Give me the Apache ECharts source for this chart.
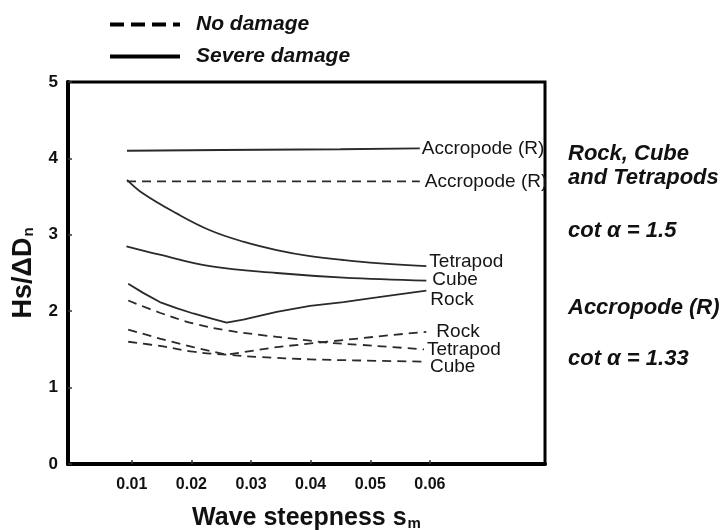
<!DOCTYPE html>
<html><head><meta charset="utf-8">
<script src="https://cdn.jsdelivr.net/npm/echarts@6/dist/echarts.min.js"></script>
<style>html,body{margin:0;padding:0;background:#fff}#c{width:720px;height:530px}</style>
</head><body><div id="c"></div>
<script>
// Tick values / labels
const xTicks = [0.01, 0.02, 0.03, 0.04, 0.05, 0.06];
const xTickLabels = ['0.01', '0.02', '0.03', '0.04', '0.05', '0.06'];
const yTicks = [0, 1, 2, 3, 4, 5];

// Severe damage (solid)
const accSevereX = [0.0092, 0.025, 0.045, 0.0583];
const accSevereY = [4.10, 4.11, 4.12, 4.13];
const tetraSevereX = [0.0092, 0.0119, 0.0175, 0.0231, 0.0287, 0.0343, 0.0399, 0.0455, 0.0511, 0.0594];
const tetraSevereY = [3.72, 3.54, 3.28, 3.06, 2.91, 2.80, 2.72, 2.67, 2.63, 2.59];
const cubeSevereX = [0.0091, 0.0147, 0.0231, 0.0343, 0.0455, 0.0594];
const cubeSevereY = [2.85, 2.74, 2.59, 2.50, 2.44, 2.40];
const rockSevereX = [0.0094, 0.0119, 0.0147, 0.0175, 0.0203, 0.0231, 0.0259, 0.0287, 0.0343, 0.0399, 0.0455, 0.0511, 0.0594];
const rockSevereY = [2.36, 2.24, 2.12, 2.04, 1.97, 1.91, 1.85, 1.89, 1.99, 2.07, 2.12, 2.18, 2.27];

// No damage (dashed)
const accNoX = [0.0092, 0.0583];
const accNoY = [3.70, 3.70];
const rockNoX = [0.0094, 0.0147, 0.0203, 0.0259, 0.0343, 0.0427, 0.0483, 0.0538, 0.0594];
const rockNoY = [1.76, 1.64, 1.53, 1.43, 1.53, 1.60, 1.645, 1.69, 1.73];
const tetraNoX = [0.0094, 0.0147, 0.0203, 0.0259, 0.0315, 0.0371, 0.0427, 0.0483, 0.0538, 0.0590];
const tetraNoY = [2.14, 1.98, 1.84, 1.75, 1.69, 1.64, 1.59, 1.56, 1.53, 1.50];
const cubeNoX = [0.0094, 0.0147, 0.0203, 0.0259, 0.0315, 0.0399, 0.0483, 0.0590];
const cubeNoY = [1.60, 1.545, 1.47, 1.43, 1.40, 1.37, 1.355, 1.34];

const FONT = 'Liberation Sans, Arial, sans-serif';
const LINE = '#2a2a2a';
const DASH = [9, 6];
const ICON_DASHED = 'path://M0,0h14v4h-14zM21,0h14v4h-14zM42,0h14v4h-14zM63,0h7v4h-7z';
const ICON_SOLID = 'path://M0,0h70v4h-70z';

function zip(xs, ys) { return xs.map((x, i) => [x, ys[i]]); }
function curve(name, xs, ys, dashed, label, smooth, dist, off) {
  return {
    type: 'line', name: name, data: zip(xs, ys), symbol: 'none', smooth: smooth,
    silent: true,
    itemStyle: { color: LINE },
    lineStyle: { color: LINE, width: 1.8, type: dashed ? DASH : 'solid' },
    endLabel: {
      show: true, formatter: label, distance: dist, offset: off,
      fontFamily: FONT, fontSize: 19, color: '#151515'
    }
  };
}

const chart = echarts.init(document.getElementById('c'), null, { renderer: 'canvas' });
const rightFont = { fontFamily: FONT, fontSize: 22, fontWeight: 'bold', fontStyle: 'italic', fill: '#111' };
function rtext(t, y) {
  return { type: 'text', left: 568, top: y - 12, style: Object.assign({ text: t }, rightFont) };
}

chart.setOption({
  animation: false,
  textStyle: { fontFamily: FONT },
  grid: { left: 68, right: 175, top: 82, bottom: 66, show: true, borderColor: '#000', borderWidth: 3, outerBoundsMode: 'none', containLabel: false },
  legend: {
    orient: 'vertical', left: 105, top: 9, itemGap: 11, itemWidth: 70, itemHeight: 4,
    data: [
      { name: 'No damage', icon: ICON_DASHED },
      { name: 'Severe damage', icon: ICON_SOLID }
    ],
    itemStyle: { color: '#000', borderWidth: 0 },
    textStyle: { fontSize: 21, fontWeight: 'bold', fontStyle: 'italic', color: '#111', padding: [0, 0, 0, 11] }
  },
  xAxis: {
    type: 'value', min: -0.0007, max: 0.0793,
    name: '{a|Wave steepness s}{b|m}', nameLocation: 'middle', nameGap: 42,
    nameTextStyle: {
      rich: {
        a: { fontSize: 25, fontWeight: 'bold', color: '#111', fontFamily: FONT },
        b: { fontSize: 15, fontWeight: 'bold', color: '#111', fontFamily: FONT, padding: [10, 0, 0, 1] }
      }
    },
    axisLine: { onZero: false, lineStyle: { color: '#000', width: 4 } },
    axisTick: { show: true, inside: true, length: 4, customValues: xTicks, lineStyle: { color: '#333', width: 1.5 } },
    axisLabel: {
      customValues: xTicks, margin: 13,
      formatter: v => xTickLabels[xTicks.findIndex(t => Math.abs(t - v) < 1e-6)],
      fontSize: 16, fontWeight: 'bold', color: '#111'
    },
    splitLine: { show: false }
  },
  yAxis: {
    type: 'value', min: 0, max: 5, interval: 1,
    name: '{a|Hs/ΔD}{b|n}', nameLocation: 'middle', nameGap: 31, nameRotate: 90,
    nameTextStyle: {
      rich: {
        a: { fontSize: 27, fontWeight: 'bold', color: '#111', fontFamily: FONT },
        b: { fontSize: 15, fontWeight: 'bold', color: '#111', fontFamily: FONT, padding: [10, 0, 0, 1] }
      }
    },
    axisLine: { show: true, onZero: false, lineStyle: { color: '#000', width: 4 } },
    axisTick: { show: true, inside: true, length: 4, lineStyle: { color: '#333', width: 1.5 } },
    axisLabel: {
      margin: 10, fontSize: 17, fontWeight: 'bold', color: '#111',
      formatter: v => String(yTicks[yTicks.indexOf(v)])
    },
    splitLine: { show: false }
  },
  graphic: [
    rtext('Rock, Cube', 155),
    rtext('and Tetrapods', 179),
    rtext('cot α = 1.5', 232),
    rtext('Accropode (R)', 309),
    rtext('cot α = 1.33', 360)
  ],
  series: [
    { type: 'line', name: 'No damage', data: [], symbol: 'none', itemStyle: { color: '#000' }, lineStyle: { color: '#000', width: 4 } },
    { type: 'line', name: 'Severe damage', data: [], symbol: 'none', itemStyle: { color: '#000' }, lineStyle: { color: '#000', width: 4 } },
    curve('acc-severe', accSevereX, accSevereY, false, 'Accropode (R)', false, 2, [0, 0]),
    curve('acc-no', accNoX, accNoY, true, 'Accropode (R)', false, 5, [0, 0]),
    curve('tetra-severe', tetraSevereX, tetraSevereY, false, 'Tetrapod', 0.4, 3, [0, -4]),
    curve('cube-severe', cubeSevereX, cubeSevereY, false, 'Cube', 0.4, 6, [0, -1]),
    curve('rock-severe', rockSevereX, rockSevereY, false, 'Rock', false, 4, [0, 9]),
    curve('rock-no', rockNoX, rockNoY, true, 'Rock', false, 10, [0, 0]),
    curve('tetra-no', tetraNoX, tetraNoY, true, 'Tetrapod', 0.4, 3, [0, 0]),
    curve('cube-no', cubeNoX, cubeNoY, true, 'Cube', 0.4, 6, [0, 5])
  ]
});
</script></body></html>
